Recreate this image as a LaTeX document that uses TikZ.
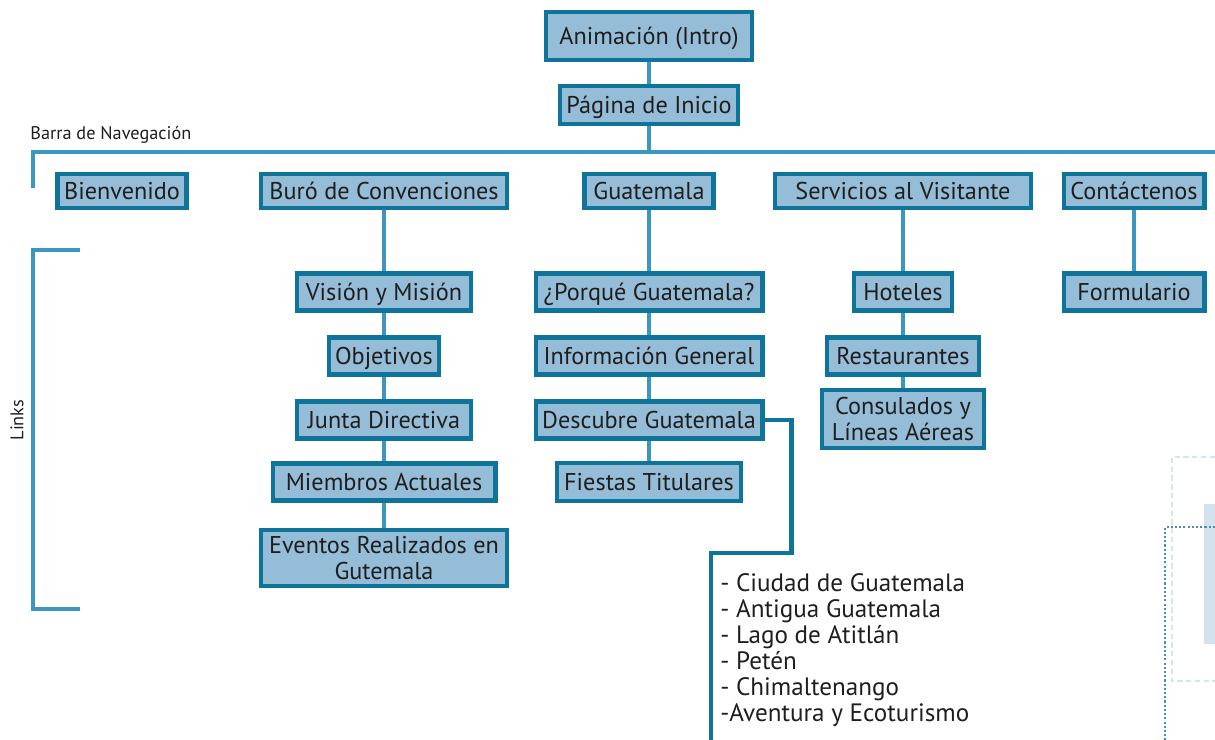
\documentclass[tikz,border=0pt]{standalone}
\usepackage{fontspec}
\setmainfont{PT Sans}
\usetikzlibrary{positioning}
\definecolor{boxfill}{HTML}{95BDD7}
\definecolor{boxline}{HTML}{0E7499}
\definecolor{navline}{HTML}{3C97C0}
\definecolor{txt}{HTML}{1E1E1E}
\definecolor{decoA}{HTML}{D6E4EE}
\definecolor{decoB}{HTML}{D3E2ED}
\definecolor{decoC}{HTML}{4A8DAD}
\tikzset{
  page/.style={draw=boxline, fill=boxfill, line width=2.3pt, inner sep=0pt,
    text=txt, align=center, text height=1.02em, text depth=0.1em,
    font=\fontsize{13.8}{14.5}\selectfont},
  twoline/.style={text height=, text depth=},
  link/.style={navline, line width=2.3pt},
  sublink/.style={boxline, line width=2.3pt},
  note/.style={text=txt, inner sep=0pt, font=\fontsize{10.4}{12}\selectfont},
}

\begin{document}
\begin{tikzpicture}[x=0.02cm, y=-0.02cm]
\useasboundingbox (0,0) rectangle (1215,740);

% pagina principal
\node[page, minimum width=4.12cm, minimum height=0.96cm] (intro) at (649,36) {Animación (Intro)};
\node[page, minimum width=3.56cm, minimum height=0.76cm] (inicio) at (649,105) {Página de Inicio};

% barra de navegacion
\coordinate (navL) at (33,152);
\coordinate (navR) at (1215,152);
\coordinate (navE) at (33,188);
\node[note, anchor=west] (barra) at (30,135) {Barra de Navegación};

\node[page, minimum width=2.58cm, minimum height=0.68cm] (bienvenido) at (122,191) {Bienvenido};
\node[page, minimum width=4.92cm, minimum height=0.68cm] (buro) at (384,191) {Buró de Convenciones};
\node[page, minimum width=2.58cm, minimum height=0.68cm] (guate) at (649,191) {Guatemala};
\node[page, minimum width=5.12cm, minimum height=0.68cm] (servicios) at (903,191) {Servicios al Visitante};
\node[page, minimum width=2.82cm, minimum height=0.68cm] (contacto) at (1134,191) {Contáctenos};

% links
\node[page, minimum width=3.48cm, minimum height=0.74cm] (vision) at (384,292) {Visión y Misión};
\node[page, minimum width=2.20cm, minimum height=0.74cm] (objetivos) at (384,356) {Objetivos};
\node[page, minimum width=3.48cm, minimum height=0.74cm] (junta) at (384,420) {Junta Directiva};
\node[page, minimum width=4.46cm, minimum height=0.74cm] (miembros) at (384,482) {Miembros Actuales};
\node[page, twoline, minimum width=4.94cm, minimum height=1.12cm] (eventos) at (384,558) {Eventos Realizados en\\Gutemala};

\node[page, minimum width=4.54cm, minimum height=0.74cm] (porque) at (649,292) {¿Porqué Guatemala?};
\node[page, minimum width=4.54cm, minimum height=0.74cm] (info) at (649,356) {Información General};
\node[page, minimum width=4.54cm, minimum height=0.74cm] (descubre) at (649,420) {Descubre Guatemala};
\node[page, minimum width=3.68cm, minimum height=0.76cm] (fiestas) at (649,482) {Fiestas Titulares};

\node[page, minimum width=1.96cm, minimum height=0.74cm] (hoteles) at (903,292) {Hoteles};
\node[page, minimum width=3.04cm, minimum height=0.74cm] (restaurantes) at (903,356) {Restaurantes};
\node[page, twoline, minimum width=3.24cm, minimum height=1.16cm] (consulados) at (903,419) {Consulados y\\Líneas Aéreas};

\node[page, minimum width=2.82cm, minimum height=0.74cm] (formulario) at (1134,292) {Formulario};

\draw[link] (intro) -- (inicio);
\draw[link] (inicio) -- (inicio |- navL);
\draw[link] (navE) -- (navL) -- (navR);
\foreach \a/\b in {buro/vision, vision/objetivos, objetivos/junta, junta/miembros, miembros/eventos,
  guate/porque, porque/info, info/descubre, descubre/fiestas,
  servicios/hoteles, hoteles/restaurantes, restaurantes/consulados, contacto/formulario}
  \draw[link] (\a) -- (\b);

% corchete de links
\coordinate (brT) at (80,250);
\coordinate (brB) at (80,609);
\draw[link] (brT) -- (33,250) -- (33,609) -- (brB);
\node[note, rotate=90] (linkslbl) at (17,420) {Links};

% destinos de descubre guatemala
\coordinate (dturn) at (711,553);
\coordinate (dend) at (711,740);
\draw[sublink] (descubre.east) -- ++(27,0) |- (dturn) -- (dend);
\node[text=txt, inner sep=0pt, anchor=north west, align=left,
  font=\fontsize{14.3}{14.8}\selectfont] (destinos) at (720,573)
  {- Ciudad de Guatemala\\- Antigua Guatemala\\- Lago de Atitlán\\- Petén\\- Chimaltenango\\-Aventura y Ecoturismo};

% adorno
\draw[decoA, line width=0.6pt, dash pattern=on 3pt off 2pt] (1215,457) -- (1172,457) -- (1172,681) -- (1215,681);
\fill[decoB] (1204,504) rectangle (1215,644);
\draw[decoC, line width=1.1pt, dash pattern=on 1.2pt off 1.2pt] (1215,527) -- (1165,527) -- (1165,740);
\end{tikzpicture}
\end{document}
